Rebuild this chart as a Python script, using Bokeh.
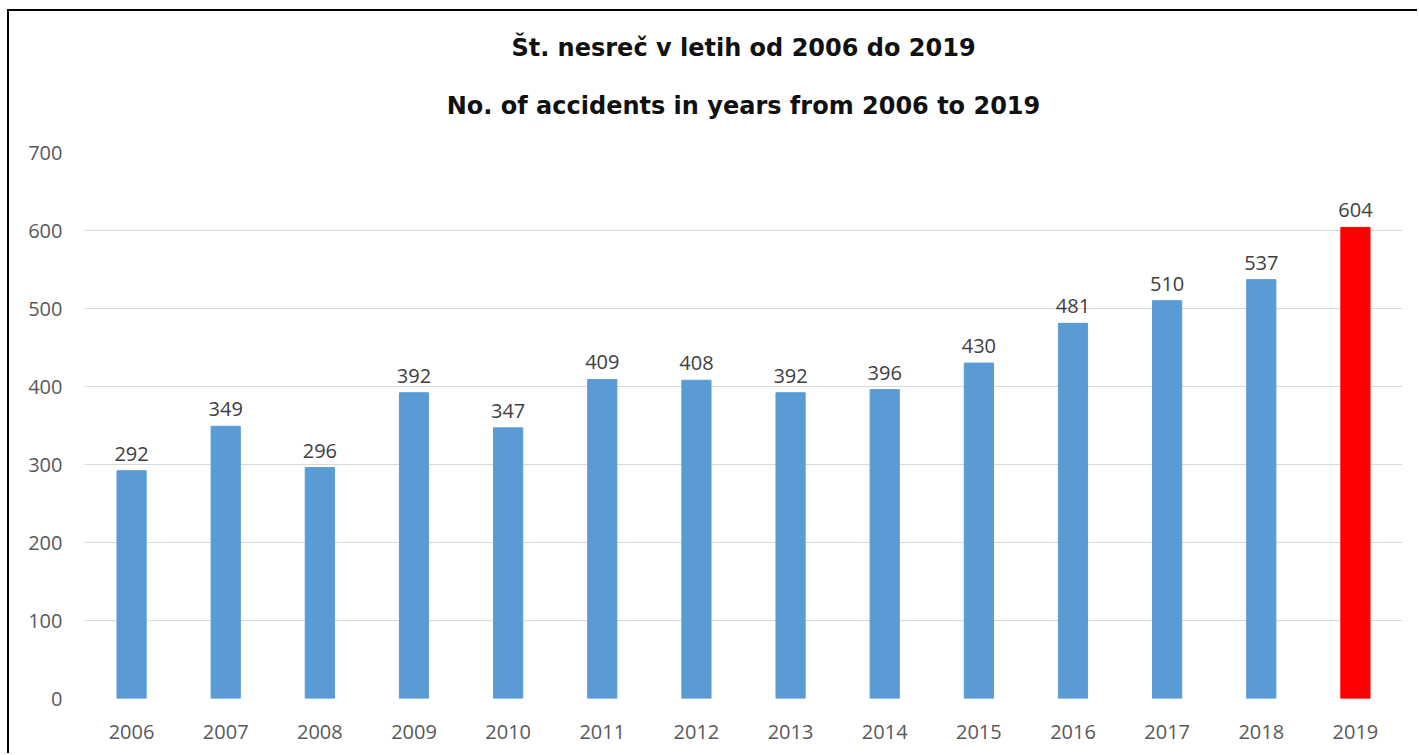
from bokeh.plotting import figure
from bokeh.models import ColumnDataSource, Title, FixedTicker
from bokeh.core.properties import value
from bokeh.embed import file_html
from bokeh.resources import INLINE

years = ["2006", "2007", "2008", "2009", "2010", "2011", "2012",
         "2013", "2014", "2015", "2016", "2017", "2018", "2019"]
accidents = [292, 349, 296, 392, 347, 409, 408, 392, 396, 430, 481, 510, 537, 604]
colors = ["#5B9BD5"] * 13 + ["#FF0000"]
title_sl = "Št. nesreč v letih od 2006 do 2019"
title_en = "No. of accidents in years from 2006 to 2019"
y_ticks = [0, 100, 200, 300, 400, 500, 600, 700]

FONT = "Open Sans"
TFONT = "DejaVu Sans"
src = ColumnDataSource(dict(year=years, n=accidents, color=colors,
                            lbl=[str(v) for v in accidents]))

p = figure(x_range=years, y_range=(0, 700), width=1410, height=744,
           output_backend="svg", toolbar_location=None,
           min_border_left=75, min_border_right=17, min_border_top=141,
           min_border_bottom=57)
p.styles = {"border-left": "2px solid #000", "border-top": "2px solid #000",
            "margin-left": "7px", "margin-top": "9px"}
p.outline_line_color = None
p.background_fill_color = "white"

p.vbar(x="year", top="n", width=0.31, color="color", source=src)
p.text(x="year", y="n", text="lbl", source=src, text_align="center",
       text_baseline="alphabetic", y_offset=-17, text_font_size="20px",
       text_color="#404040", text_font=value(FONT))

p.yaxis.ticker = FixedTicker(ticks=y_ticks)
for ax in (p.xaxis, p.yaxis):
    ax.axis_line_color = None
    ax.major_tick_line_color = None
    ax.minor_tick_line_color = None
    ax.major_tick_out = 0
    ax.minor_tick_out = 0
    ax.major_label_text_color = "#595959"
    ax.major_label_text_font_size = "20px"
    ax.major_label_text_font = FONT
p.yaxis.major_label_standoff = 22
p.xaxis.major_label_standoff = 26
p.xgrid.grid_line_color = None
p.ygrid.grid_line_color = "#D9D9D9"
p.ygrid.grid_line_width = 1

# first added sits closest to the frame
p.add_layout(Title(text=title_en, align="center", text_font=TFONT,
                   text_font_style="bold", text_font_size="24px",
                   text_color="#111111", standoff=66), "above")
p.add_layout(Title(text=title_sl, align="center", text_font=TFONT,
                   text_font_style="bold", text_font_size="24px",
                   text_color="#111111", standoff=-10), "above")

open("out.html", "w").write(file_html(p, INLINE))
